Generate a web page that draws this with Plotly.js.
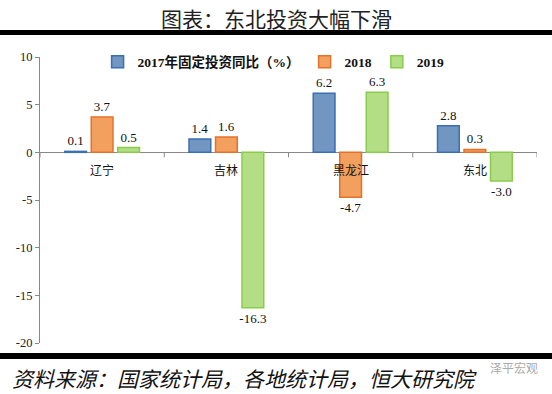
<!DOCTYPE html>
<html><head><meta charset="utf-8">
<script src="https://cdn.plot.ly/plotly-3.0.1.min.js"></script>
<style>body{margin:0;background:#fff}#c{width:552px;height:394px}</style>
</head><body><div id="c"></div>
<script>
var categories = ['辽宁','吉林','黑龙江','东北'];
var seriesNames = ['2017年固定投资同比（%）','2018','2019'];
var v2017 = [0.1, 1.4, 6.2, 2.8];
var v2018 = [3.7, 1.6, -4.7, 0.3];
var v2019 = [0.5, -16.3, 6.3, -3.0];
var yTicks = [10, 5, 0, -5, -10, -15, -20];
var titleText = '图表：东北投资大幅下滑';
var sourceText = '资料来源：国家统计局，各地统计局，恒大研究院';
var watermark = '泽平宏观';

var fills = ['#7196c2','#f39f5e','#b3de86'];
var edges = ['#3a6fb3','#e3722a','#8bcb4c'];
var serif = '"Liberation Serif","Times New Roman","Noto Sans CJK SC",serif';
var vals = [v2017, v2018, v2019];
var traces = vals.map(function(v, k){
  return {
    type:'bar', x:categories, y:v, name:seriesNames[k],
    marker:{color:fills[k], line:{color:edges[k], width:1.5}},
    text:v.map(function(d){return d.toFixed(1);}),
    textposition:'outside', cliponaxis:false, constraintext:'none',
    textfont:{family:serif, size:13, color:'#111'}
  };
});

// plot area pixel y 57..343 (height 286)
function py(p){ return (343 - p)/286; }
var shapes = [
  {type:'rect', xref:'paper', yref:'paper', x0:-0.2, x1:1.2, y0:py(35), y1:py(30), fillcolor:'#000', line:{width:0}, layer:'above'},
  {type:'rect', xref:'paper', yref:'paper', x0:-0.2, x1:1.2, y0:py(359), y1:py(353), fillcolor:'#000', line:{width:0}, layer:'above'}
];
for (var i = 0; i <= categories.length; i++) {
  shapes.push({type:'line', xref:'x', yref:'y', ysizemode:'pixel', yanchor:0,
    x0:i-0.5, x1:i-0.5, y0:0, y1:-5, line:{color:'#888', width:1}});
}

var annotations = categories.map(function(c, i){
  return {x:c, y:0, xref:'x', yref:'y', text:c, showarrow:false, yanchor:'top', yshift:-7,
    font:{family:'"Noto Sans CJK SC",sans-serif', size:12, color:'#111'}};
});
annotations.push({xref:'paper', yref:'paper', x:(276-40)/497, y:py(18), text:titleText, showarrow:false,
  xanchor:'center', yanchor:'middle', font:{family:'"Noto Sans CJK SC",sans-serif', size:21, color:'#222'}});
annotations.push({xref:'paper', yref:'paper', x:(10-40)/497, y:py(378), text:'<i>'+sourceText+'</i>', showarrow:false,
  xanchor:'left', yanchor:'middle', font:{family:'"Noto Sans CJK SC",sans-serif', size:21, color:'#111'}});
annotations.push({xref:'paper', yref:'paper', x:(540-40)/497, y:py(367), text:watermark, showarrow:false,
  xanchor:'right', yanchor:'middle', font:{family:'"Noto Sans CJK SC",sans-serif', size:12, color:'#aaa'}});

var layout = {
  width:552, height:394,
  margin:{l:40, r:15, t:57, b:51, pad:0},
  paper_bgcolor:'#fff', plot_bgcolor:'#fff',
  barmode:'group', bargap:0.36, bargroupgap:0.18,
  showlegend:true,
  legend:{orientation:'h', x:0.47, xanchor:'center', y:py(62), yanchor:'middle',
    font:{family:serif, size:13.5, color:'#111', weight:'bold'}, itemwidth:30, traceorder:'normal',
    bgcolor:'rgba(0,0,0,0)'},
  xaxis:{showticklabels:false, showgrid:false, zeroline:false, showline:false, ticks:'', range:[-0.5, 3.5], fixedrange:true},
  yaxis:{range:[-20, 10], tickvals:yTicks, ticktext:yTicks.map(String), showgrid:false,
    zeroline:true, zerolinecolor:'#888', zerolinewidth:1,
    showline:true, linecolor:'#888', linewidth:1, ticks:'outside', ticklen:4, tickcolor:'#888',
    tickfont:{family:serif, size:12.5, color:'#222'}},
  shapes:shapes, annotations:annotations
};
Plotly.newPlot('c', traces, layout, {staticPlot:true});
</script></body></html>
